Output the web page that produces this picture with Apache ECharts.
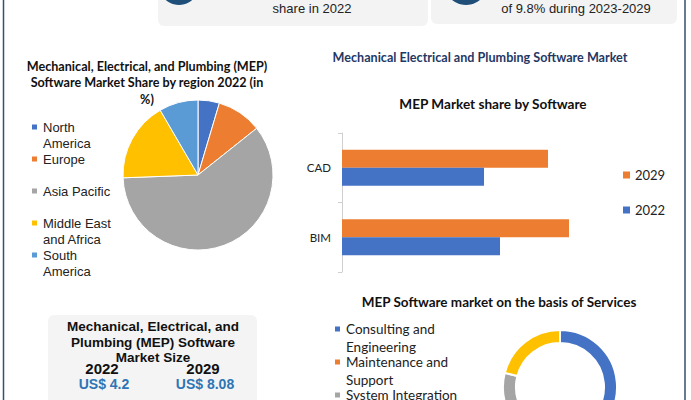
<!DOCTYPE html>
<html><head><meta charset="utf-8">
<script src="https://cdn.jsdelivr.net/npm/echarts@6/dist/echarts.min.js"></script>
<style>html,body{margin:0;padding:0;background:#fff;}#c{width:691px;height:400px;}</style>
</head><body><div id="c"></div>
<script>
// ---- data ----
var regions = ['North America', 'Europe', 'Asia Pacific', 'Middle East and Africa', 'South America'];
var regionLines = [['North', 'America'], ['Europe'], ['Asia Pacific'], ['Middle East', 'and Africa'], ['South', 'America']];
var regionShares = [4.6, 9.7, 60.1, 17.2, 8.4];
var regionColors = ['#4472C4', '#ED7D31', '#A5A5A5', '#FFC000', '#5B9BD5'];

var softwareCats = ['BIM', 'CAD'];
var software2022 = [1.58, 1.42];
var software2029 = [2.27, 2.06];

var services = ['Consulting and Engineering', 'Maintenance and Support', 'System Integration', 'Others'];
var serviceLines = [['Consulting and', 'Engineering'], ['Maintenance and', 'Support'], ['System Integration'], ['Others']];
var serviceShares = [47, 20, 12, 21];
var serviceColors = ['#4472C4', '#ED7D31', '#A5A5A5', '#FFC000'];

var marketYears = ['2022', '2029'];
var marketSize = [4.2, 8.08];

var cardTexts = ['share in 2022', 'of 9.8% during 2023-2029'];

// ---- helpers ----
function threeLine(lines) {
  return '\n' + lines[0] + '\n' + (lines[1] || ' ');
}
function lookup(names, lines) {
  return function (n) { return threeLine(lines[names.indexOf(n)]); };
}

var chart = echarts.init(document.getElementById('c'), null, { renderer: 'svg' });

var graphics = [
  // frame borders
  { type: 'line', shape: { x1: 3.5, y1: 0, x2: 3.5, y2: 400 }, style: { stroke: '#34506e', lineWidth: 1.5 } },
  { type: 'line', shape: { x1: 685, y1: 0, x2: 685, y2: 400 }, style: { stroke: '#34506e', lineWidth: 1.5 } },
  // top cards
  { type: 'rect', shape: { x: 158, y: -10, width: 270, height: 36, r: 6 }, style: { fill: '#f3f3f3' } },
  { type: 'rect', shape: { x: 431, y: -10, width: 246, height: 34, r: 6 }, style: { fill: '#f3f3f3' } },
  { type: 'circle', shape: { cx: 179, cy: -15, r: 20 }, style: { fill: '#1f4e79' } },
  { type: 'circle', shape: { cx: 466, cy: -17, r: 22 }, style: { fill: '#1f4e79' } },
  { type: 'text', x: 312, y: 8, style: { text: cardTexts[0], font: '13px "Liberation Sans", Arial', fill: '#222', align: 'center', verticalAlign: 'middle' } },
  { type: 'text', x: 576, y: 8, style: { text: cardTexts[1], font: '13px "Liberation Sans", Arial', fill: '#222', align: 'center', verticalAlign: 'middle' } },
  // pie title
  { type: 'text', x: 147, y: 58, style: { text: 'Mechanical, Electrical, and Plumbing (MEP)\nSoftware Market Share by region 2022 (in\n%)', font: 'bold 12.6px Lato, "Noto Sans"', lineHeight: 16.5, fill: '#111', align: 'center', verticalAlign: 'top' } },
  // right titles
  { type: 'text', x: 480, y: 57, style: { text: 'Mechanical Electrical and Plumbing Software Market', font: 'bold 12.6px Lato, "Noto Sans"', fill: '#1F3864', align: 'center', verticalAlign: 'middle' } },
  { type: 'text', x: 493, y: 104, style: { text: 'MEP Market share by Software', font: 'bold 13.6px Lato, "Noto Sans"', fill: '#111', align: 'center', verticalAlign: 'middle' } },
  { type: 'text', x: 499, y: 302, style: { text: 'MEP Software market on the basis of Services', font: 'bold 13.5px Lato, "Noto Sans"', fill: '#111', align: 'center', verticalAlign: 'middle' } },
  // bottom-left market size box
  { type: 'rect', shape: { x: 48, y: 315, width: 209, height: 100, r: 6 }, style: { fill: '#f4f4f4' } },
  { type: 'text', x: 153, y: 319, style: { text: 'Mechanical, Electrical, and\nPlumbing (MEP) Software\nMarket Size', font: 'bold 13.5px "Liberation Sans", Arial', lineHeight: 15.5, fill: '#111', align: 'center', verticalAlign: 'top' } },
  { type: 'text', x: 102, y: 368, style: { text: marketYears[0], font: 'bold 15px "Liberation Sans", Arial', fill: '#111', align: 'center', verticalAlign: 'middle' } },
  { type: 'text', x: 203, y: 368, style: { text: marketYears[1], font: 'bold 15px "Liberation Sans", Arial', fill: '#111', align: 'center', verticalAlign: 'middle' } },
  { type: 'text', x: 104, y: 384, style: { text: 'US$ ' + marketSize[0], font: 'bold 14px "Liberation Sans", Arial', fill: '#2E75B6', align: 'center', verticalAlign: 'middle' } },
  { type: 'text', x: 205, y: 384, style: { text: 'US$ ' + marketSize[1], font: 'bold 14px "Liberation Sans", Arial', fill: '#2E75B6', align: 'center', verticalAlign: 'middle' } }
];

var option = {
  animation: false,
  backgroundColor: '#ffffff',
  graphic: graphics,
  legend: [
    {
      data: regions, orient: 'vertical', left: 30, top: 103, padding: 0, height: 400,
      icon: 'rect', itemWidth: 7, itemHeight: 7, itemGap: -16,
      formatter: lookup(regions, regionLines),
      textStyle: { fontFamily: '"Liberation Sans", Arial', fontSize: 13, lineHeight: 16, color: '#222' }
    },
    {
      data: ['2029', '2022'], orient: 'vertical', left: 623, top: 167, padding: 0,
      icon: 'rect', itemWidth: 7, itemHeight: 7, itemGap: 19,
      textStyle: { fontFamily: 'Lato, "Noto Sans"', fontSize: 13, lineHeight: 16, color: '#222' }
    },
    {
      data: services, orient: 'vertical', left: 333, top: 302, padding: 0, height: 400,
      icon: 'rect', itemWidth: 7, itemHeight: 7, itemGap: -21,
      formatter: lookup(services, serviceLines),
      textStyle: { fontFamily: 'Lato, "Noto Sans"', fontSize: 13.5, lineHeight: 18, color: '#222' }
    }
  ],
  grid: { left: 342, top: 133, width: 300, height: 139 },
  xAxis: { type: 'value', min: 0, max: 3, show: false, splitLine: { show: false } },
  yAxis: {
    type: 'category', data: softwareCats,
    axisLine: { lineStyle: { color: '#d0d0d0' } },
    axisTick: { show: true, length: 4, lineStyle: { color: '#d0d0d0' } },
    axisLabel: { fontFamily: 'Lato, "Noto Sans"', fontSize: 11.5, color: '#222', margin: 11 }
  },
  series: [
    {
      name: '2029', type: 'bar', data: software2029, barWidth: 18, barGap: '0%',
      itemStyle: { color: '#ED7D31' }
    },
    {
      name: '2022', type: 'bar', data: software2022, barWidth: 18, barGap: '0%',
      itemStyle: { color: '#4472C4' }
    },
    {
      name: 'Region share', type: 'pie', center: [198, 175], radius: 75,
      startAngle: 90, clockwise: true,
      label: { show: false }, labelLine: { show: false },
      itemStyle: { borderColor: '#fff', borderWidth: 1 },
      data: regions.map(function (r, i) { return { name: r, value: regionShares[i], itemStyle: { color: regionColors[i] } }; })
    },
    {
      name: 'Services', type: 'pie', center: [560, 387], radius: [44, 57],
      startAngle: 90, clockwise: true,
      label: { show: false }, labelLine: { show: false },
      itemStyle: { borderColor: '#fff', borderWidth: 2 },
      data: services.map(function (s, i) { return { name: s, value: serviceShares[i], itemStyle: { color: serviceColors[i] } }; })
    }
  ]
};
chart.setOption(option);
</script>
</body></html>
